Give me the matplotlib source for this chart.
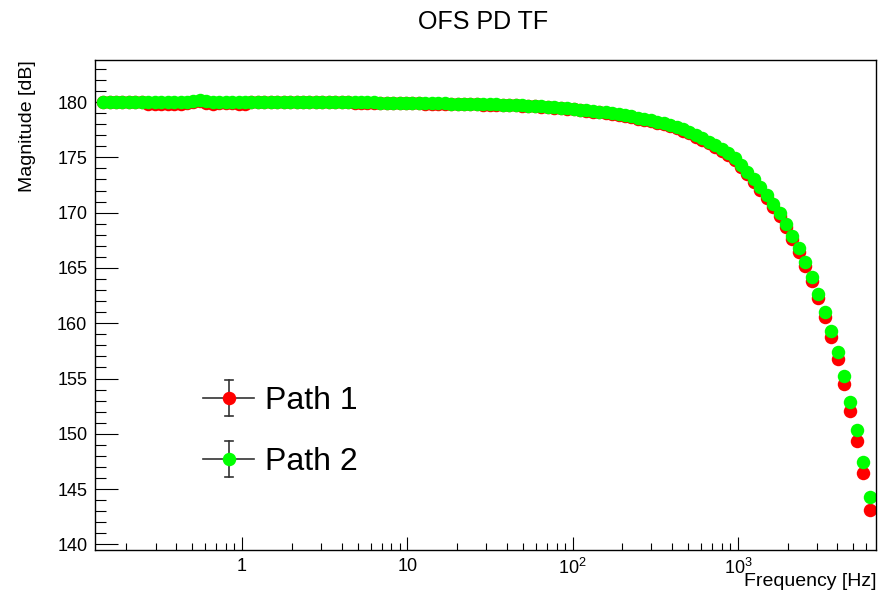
import matplotlib
matplotlib.use('Agg')
from matplotlib import pyplot as plt, ticker
import numpy as np

# swept sine frequencies [Hz]
freq = [
    0.1445, 0.1581, 0.1730, 0.1892, 0.2070, 0.2264, 0.2477, 0.2710, 0.2964, 0.3243,
    0.3548, 0.3881, 0.4246, 0.4645, 0.5081, 0.5558, 0.6079, 0.6650, 0.7275, 0.7958,
    0.8706, 0.9524, 1.042, 1.140, 1.247, 1.364, 1.492, 1.632, 1.785, 1.953,
    2.137, 2.337, 2.557, 2.797, 3.060, 3.347, 3.661, 4.005, 4.382, 4.793,
    5.243, 5.736, 6.275, 6.864, 7.509, 8.215, 8.986, 9.829, 10.75, 11.76,
    12.87, 14.07, 15.39, 16.84, 18.42, 20.15, 22.04, 24.11, 26.37, 28.85,
    31.56, 34.52, 37.76, 41.30, 45.18, 49.42, 54.06, 59.13, 64.69, 70.76,
    77.40, 84.66, 92.61, 101.3, 110.8, 121.2, 132.6, 145.0, 158.7, 173.6,
    189.8, 207.7, 227.2, 248.5, 271.8, 297.3, 325.2, 355.8, 389.1, 425.7,
    465.6, 509.3, 557.2, 609.5, 666.7, 729.2, 797.7, 872.6, 954.5, 1044,
    1142, 1249, 1367, 1495, 1635, 1789, 1957, 2140, 2341, 2561,
    2801, 3064, 3352, 3667, 4011, 4387, 4799, 5250, 5743, 6282,
]

# magnitude [dB]
mag_path1 = [
    180.00, 180.00, 180.00, 180.00, 180.00, 180.00, 180.00, 179.82, 179.80, 179.80,
    179.80, 179.82, 179.85, 179.90, 180.02, 180.05, 179.88, 179.85, 179.88, 179.95,
    179.95, 179.82, 179.82, 179.99, 179.99, 179.99, 179.99, 179.99, 179.99, 179.99,
    179.99, 179.99, 179.99, 179.99, 179.99, 179.99, 179.97, 179.97, 179.96, 179.95,
    179.94, 179.93, 179.93, 179.92, 179.91, 179.90, 179.89, 179.89, 179.88, 179.87,
    179.86, 179.85, 179.85, 179.84, 179.83, 179.82, 179.81, 179.80, 179.79, 179.77,
    179.76, 179.75, 179.73, 179.72, 179.70, 179.68, 179.65, 179.62, 179.58, 179.54,
    179.50, 179.45, 179.40, 179.34, 179.27, 179.21, 179.14, 179.07, 178.99, 178.91,
    178.82, 178.72, 178.61, 178.50, 178.38, 178.26, 178.11, 177.97, 177.81, 177.62,
    177.42, 177.17, 176.88, 176.58, 176.27, 175.95, 175.59, 175.18, 174.72, 174.16,
    173.50, 172.80, 172.07, 171.34, 170.52, 169.66, 168.68, 167.58, 166.44, 165.18,
    163.80, 162.27, 160.56, 158.77, 156.77, 154.50, 152.05, 149.34, 146.45, 143.11,
]

mag_path2 = [
    180.02, 180.02, 180.02, 180.02, 180.02, 180.02, 180.02, 180.02, 180.02, 180.02,
    180.02, 180.02, 180.02, 180.02, 180.12, 180.14, 180.05, 180.02, 180.02, 180.02,
    180.02, 180.02, 180.02, 180.02, 180.02, 180.02, 180.02, 180.02, 180.02, 180.02,
    180.02, 180.02, 180.02, 180.02, 180.02, 180.02, 180.00, 180.00, 179.99, 179.98,
    179.97, 179.96, 179.96, 179.95, 179.94, 179.93, 179.92, 179.92, 179.91, 179.90,
    179.89, 179.88, 179.88, 179.87, 179.86, 179.85, 179.84, 179.83, 179.82, 179.80,
    179.79, 179.78, 179.76, 179.75, 179.73, 179.71, 179.68, 179.65, 179.61, 179.57,
    179.53, 179.49, 179.44, 179.38, 179.32, 179.26, 179.20, 179.13, 179.06, 178.98,
    178.90, 178.80, 178.70, 178.59, 178.48, 178.36, 178.22, 178.08, 177.92, 177.74,
    177.54, 177.30, 177.02, 176.72, 176.42, 176.10, 175.75, 175.35, 174.90, 174.35,
    173.70, 173.02, 172.30, 171.59, 170.78, 169.94, 168.97, 167.88, 166.77, 165.53,
    164.18, 162.67, 161.01, 159.27, 157.37, 155.25, 152.90, 150.34, 147.45, 144.31,
]

series_names = ['Path 1', 'Path 2']
series_colors = ['#ff0000', '#00ff00']

x_ticks = [1, 10, 100, 1000]
x_tick_labels = ['1', '10', r'$\mathregular{10^{2}}$', r'$\mathregular{10^{3}}$']
y_ticks = [140, 145, 150, 155, 160, 165, 170, 175, 180]

plt.rcParams['font.family'] = ['Liberation Sans', 'DejaVu Sans']
plt.rcParams['mathtext.fontset'] = 'custom'
plt.rcParams['mathtext.rm'] = 'Liberation Sans'

W, H = 889, 598
L, R, T, B = 95, 876, 60, 550   # frame in pixels

fig = plt.figure(figsize=(W / 100, H / 100), dpi=100)
ax = fig.add_axes([L / W, 1 - B / H, (R - L) / W, (B - T) / H])

for mags, name, col in zip([mag_path1, mag_path2], series_names, series_colors):
    ax.plot(freq, mags, linestyle='None', marker='o', markersize=9.7,
            markerfacecolor=col, markeredgecolor='none', label=name)

ax.set_xscale('log')
ax.set_xlim(0.129, 6850)
ax.set_ylim(139.5, 183.8)

ax.set_xticks(x_ticks)
ax.set_xticklabels(x_tick_labels)
ax.xaxis.set_minor_locator(ticker.LogLocator(base=10, subs=np.arange(2, 10)))
ax.xaxis.set_minor_formatter(ticker.NullFormatter())
ax.set_yticks(y_ticks)
ax.yaxis.set_minor_locator(ticker.MultipleLocator(1))

ax.tick_params(which='both', direction='in', top=False, right=False, width=0.8)
ax.tick_params(axis='y', which='major', length=16.5, labelsize=13, pad=5.5)
ax.tick_params(axis='y', which='minor', length=8)
ax.tick_params(axis='x', which='major', length=9.5, labelsize=13, pad=6)
ax.tick_params(axis='x', which='minor', length=5.3)
for s in ax.spines.values():
    s.set_linewidth(1.0)

fig.text(483 / W, 1 - 22 / H, 'OFS PD TF', ha='center', va='center', fontsize=18)
fig.text(27 / W, 1 - T / H, 'Magnitude [dB]', rotation=90, ha='center', va='top', fontsize=14)
fig.text(877 / W, 1 - 582 / H, 'Frequency [Hz]', ha='right', va='center', fontsize=14)


# ROOT-like legend: marker with horizontal line and capped vertical bar
def to_ax(x, y):
    return (x - L) / (R - L), (B - y) / (B - T)


for k, (name, col) in enumerate(zip(series_names, series_colors)):
    yc = 397.7 + 61.3 * k
    kw = dict(transform=ax.transAxes, clip_on=False, color='#333333', lw=1.2)
    x0, y0 = to_ax(203, yc)
    x1, _ = to_ax(254, yc)
    ax.plot([x0, x1], [y0, y0], **kw)
    xm, ytop = to_ax(228.7, yc - 18)
    _, ybot = to_ax(228.7, yc + 18)
    ax.plot([xm, xm], [ybot, ytop], **kw)
    xa, _ = to_ax(224.7, yc)
    xb, _ = to_ax(232.7, yc)
    ax.plot([xa, xb], [ytop, ytop], **kw)
    ax.plot([xa, xb], [ybot, ybot], **kw)
    ax.plot([xm], [y0], transform=ax.transAxes, clip_on=False, marker='o',
            markersize=9.7, markerfacecolor=col, markeredgecolor='none')
    xt, yt = to_ax(265, yc + 3)
    ax.text(xt, yt, name, transform=ax.transAxes, ha='left', va='center', fontsize=23)

fig.savefig('out.png', dpi=100)
